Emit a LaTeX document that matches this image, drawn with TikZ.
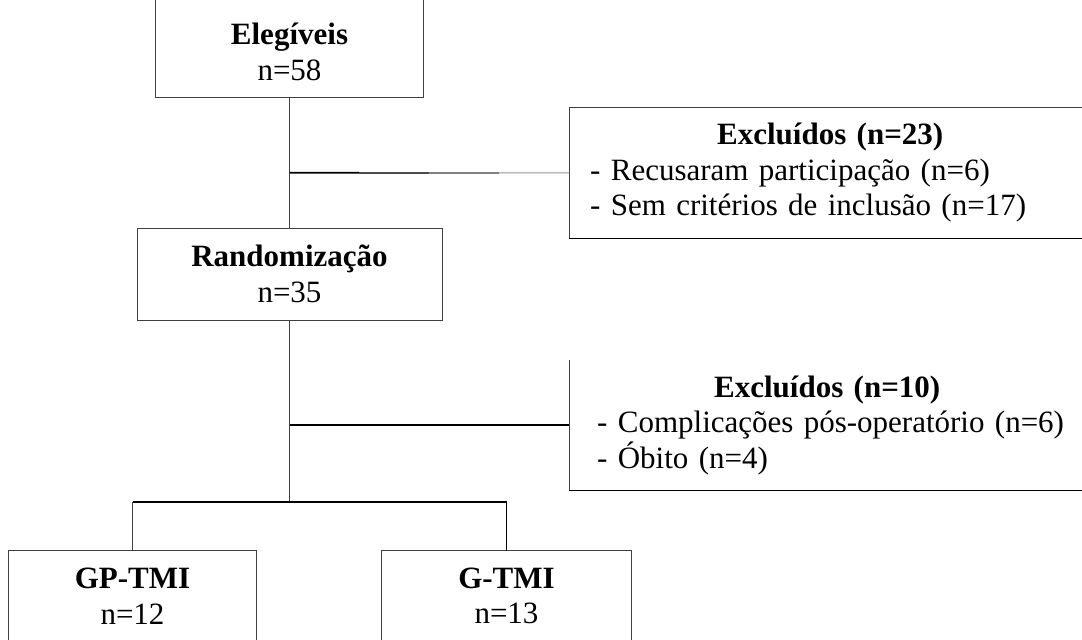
\documentclass[tikz,border=0pt]{standalone}
\usepackage{fontspec}
\setmainfont{Liberation Serif}
\usetikzlibrary{calc}
\newcommand\diafont{\fontsize{31}{35.5}\selectfont}
\begin{document}
\begin{tikzpicture}[x=1pt,y=-1pt,
  thinline/.style={line width=1pt, draw=black!75},
  thickline/.style={line width=1.6pt, draw=black},
  txt/.style={font=\diafont, inner sep=0pt},
  cbox/.style={txt, align=center},
  lbox/.style={txt, align=left, text width=480pt, anchor=north west}]
\useasboundingbox (0,0) rectangle (1082,640);
\clip (0,0) rectangle (1082,640);

% boxes
\node[cbox, minimum width=268pt, minimum height=90pt] (eleg) at (289.5,52) {\textbf{Elegíveis}\\n=58};
\draw[thinline] ([yshift=20pt]eleg.north west) -- (eleg.south west) -- (eleg.south east) -- ([yshift=20pt]eleg.north east);

\node[cbox, draw=black!75, line width=1pt, minimum width=305pt, minimum height=92pt] (rand) at (289.5,274) {\textbf{Randomização}\\n=35};

\node[lbox, inner xsep=21pt, minimum height=131pt] (ex1) at (569,107)
  {{\centering\textbf{Excluídos (n=23)}\par}
   - Recusaram participação (n=6)\par
   - Sem critérios de inclusão (n=17)};
\draw[thinline] (ex1.south west) -- (ex1.north west) -- (ex1.north east);
\draw[thickline] (ex1.south west) -- (ex1.south east);

\node[lbox, inner xsep=28pt, minimum height=130pt] (ex2) at (569,360)
  {{\centering\hspace*{-20pt}\textbf{Excluídos (n=10)}\par}
   - Complicações pós-operatório (n=6)\par
   - Óbito (n=4)};
\draw[thinline] (ex2.north west) -- (ex2.south west);
\draw[thickline] (ex2.south west) -- (ex2.south east);

\node[cbox, minimum width=248pt, minimum height=90pt] (gp) at (132.5,596) {\textbf{GP-TMI}\\n=12};
\draw[thinline] ([yshift=-20pt]gp.south west) -- (gp.north west) -- (gp.north east) -- ([yshift=-20pt]gp.south east);

\node[cbox, minimum width=249pt, minimum height=90pt] (g) at (506.5,596) {\textbf{G-TMI}\\n=13};
\draw[thinline] ([yshift=-20pt]g.south west) -- (g.north west) -- (g.north east) -- ([yshift=-20pt]g.south east);

% connectors
\draw[thinline] (eleg.south) -- (rand.north);
\coordinate (j1) at (eleg.south |- ex1.west);
\draw[line width=1.6pt, black] (j1) -- ($(j1)!0.25!(ex1.west)$);
\draw[line width=1.6pt, black!70] ($(j1)!0.25!(ex1.west)$) -- ($(j1)!0.5!(ex1.west)$);
\draw[line width=1.6pt, black!50] ($(j1)!0.5!(ex1.west)$) -- ($(j1)!0.75!(ex1.west)$);
\draw[line width=1.6pt, black!25] ($(j1)!0.75!(ex1.west)$) -- (ex1.west);

\coordinate (j3) at (289.5,502);
\draw[thinline] (rand.south) -- (j3);
\coordinate (j2) at (rand.south |- ex2.west);
\draw[thickline] (j2) -- (ex2.west);

\draw[thickline] (gp.north |- j3) -- (g.north |- j3);
\draw[thinline] (gp.north |- j3) -- (gp.north);
\draw[line width=1.3pt, black] (g.north |- j3) -- (g.north);
\end{tikzpicture}
\end{document}
